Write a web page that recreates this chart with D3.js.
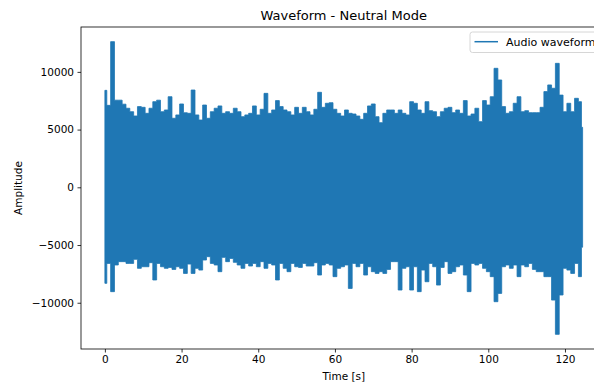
<!DOCTYPE html>
<html>
<head>
<meta charset="utf-8">
<script src="https://cdn.jsdelivr.net/npm/d3@7"></script>
<style>
  html, body { margin: 0; padding: 0; background: #fff; }
  svg { display: block; font-family: "DejaVu Sans", sans-serif; }
</style>
</head>
<body>
<div id="chart"></div>
<script>
// envelope of the waveform, one value per second (t = 0..124)
var upper = [
  8400, 7100, 12620, 7550, 7550, 7200, 6850, 6550, 6180, 6990,
  6930, 6410, 6850, 7420, 7550, 6550, 6700, 7850, 5980, 6270,
  7220, 6460, 6410, 8430, 6270, 5830, 7130, 5980, 6550, 6850,
  7050, 6410, 6550, 6410, 6850, 6550, 6120, 6270, 6410, 7050,
  6270, 6760, 8140, 6410, 6700, 7510, 6990, 6700, 6550, 6270,
  6930, 6410, 6930, 6550, 6270, 6760, 8230, 6930, 7280, 7330,
  6760, 6410, 6180, 6700, 6410, 6350, 6180, 5890, 6410, 7050,
  7220, 6120, 5600, 6410, 6700, 6700, 6410, 6700, 6410, 6270,
  7420, 7280, 6700, 6410, 7420, 6640, 6550, 6120, 6550, 6850,
  6930, 6470, 6700, 6410, 7510, 6180, 6350, 6850, 5690, 7510,
  7130, 7850, 10310, 9300, 6990, 6410, 6550, 7280, 7850, 6550,
  6640, 6470, 6470, 6470, 6930, 8290, 8870, 8580, 10740, 7990,
  6550, 7280, 6550, 7710, 7420
];
var lower = [
  -8320, -6590, -9040, -6730, -6440, -6440, -6590, -6590, -6240, -7020,
  -6880, -6880, -6530, -8030, -6590, -6880, -7020, -6940, -7110, -6880,
  -7020, -7460, -6650, -7460, -7020, -7170, -6300, -6010, -6590, -6730,
  -7310, -6070, -6440, -6160, -6500, -6730, -7020, -6590, -6820, -6590,
  -6880, -6440, -7020, -6590, -6730, -8030, -6590, -7020, -7310, -6590,
  -6880, -6940, -6590, -6820, -6820, -6530, -7600, -6730, -6590, -6730,
  -7740, -7020, -6880, -6730, -8760, -6590, -6880, -6590, -7600, -6880,
  -7310, -7460, -7310, -7460, -7110, -6440, -6440, -8900, -7020, -6880,
  -8900, -6880, -9040, -7170, -8180, -6590, -6880, -8470, -6940, -6440,
  -7460, -7310, -6880, -6730, -7600, -9040, -6590, -6730, -6590, -7020,
  -7310, -7740, -9910, -9190, -6880, -6730, -7020, -6730, -7740, -6730,
  -6880, -6590, -7110, -7310, -7310, -7740, -7740, -9770, -12740, -9330,
  -7020, -7170, -7460, -6590, -7740
];
// the last sample, at the very end of the clip
var endTime = 124.6;
var endUpper = 5200;
var endLower = -5190;

var xTicks = [0, 20, 40, 60, 80, 100, 120];
var yTicks = [-10000, -5000, 0, 5000, 10000];

var title = "Waveform - Neutral Mode";
var xLabel = "Time [s]";
var yLabel = "Amplitude";
var legendLabel = "Audio waveform";

var width = 594, height = 383;
var margin = {top: 27, left: 81, right: 606.5, bottom: 349};
var blue = "#1f77b4";

var data = upper.map(function(u, i) { return {t: i, hi: u, lo: lower[i]}; });
data.push({t: endTime, hi: endUpper, lo: endLower});

// matplotlib style 5% padding round the data
var tMax = d3.max(data, function(d) { return d.t; });
var vMax = d3.max(data, function(d) { return d.hi; });
var vMin = d3.min(data, function(d) { return d.lo; });
var padX = tMax * 0.05, padY = (vMax - vMin) * 0.05;

var x = d3.scaleLinear().domain([-padX, tMax + padX]).range([margin.left, margin.right]);
var y = d3.scaleLinear().domain([vMin - padY, vMax + padY]).range([margin.bottom, margin.top]);

var svg = d3.select("#chart").append("svg")
    .attr("width", width)
    .attr("height", height);

var area = d3.area()
    .curve(d3.curveStep)
    .x(function(d) { return x(d.t); })
    .y0(function(d) { return y(d.lo); })
    .y1(function(d) { return y(d.hi); });

svg.append("path")
    .datum(data)
    .attr("d", area)
    .attr("fill", blue)
    .attr("stroke", blue)
    .attr("stroke-width", 0.8)
    .attr("stroke-linejoin", "miter");

// axes
var xAxis = svg.append("g")
    .attr("transform", "translate(0," + margin.bottom + ")")
    .call(d3.axisBottom(x).tickValues(xTicks).tickSizeOuter(0).tickSize(3.5).tickPadding(3.5));
var yAxis = svg.append("g")
    .attr("transform", "translate(" + margin.left + ",0)")
    .call(d3.axisLeft(y).tickValues(yTicks).tickSizeOuter(0).tickSize(3.5).tickPadding(3.5)
        .tickFormat(function(d) { return d < 0 ? "\u2212" + Math.abs(d) : d; }));

[xAxis, yAxis].forEach(function(a) {
    a.select(".domain").remove();
    a.selectAll(".tick line").attr("stroke", "#000").attr("stroke-width", 0.8);
    a.selectAll(".tick text")
        .attr("fill", "#000")
        .style("font-size", "10.5px")
        .style("font-family", "DejaVu Sans, sans-serif");
});

// frame
svg.append("rect")
    .attr("x", margin.left)
    .attr("y", margin.top)
    .attr("width", margin.right - margin.left)
    .attr("height", margin.bottom - margin.top)
    .attr("fill", "none")
    .attr("stroke", "#000")
    .attr("stroke-width", 0.8);

// texts
svg.append("text")
    .attr("x", (margin.left + margin.right) / 2)
    .attr("y", 20)
    .attr("text-anchor", "middle")
    .style("font-size", "13px")
    .text(title);

svg.append("text")
    .attr("x", (margin.left + margin.right) / 2)
    .attr("y", 380)
    .attr("text-anchor", "middle")
    .style("font-size", "10.5px")
    .text(xLabel);

svg.append("text")
    .attr("transform", "translate(22," + ((margin.top + margin.bottom) / 2) + ") rotate(-90)")
    .attr("text-anchor", "middle")
    .style("font-size", "10.5px")
    .text(yLabel);

// legend
var legend = svg.append("g").attr("transform", "translate(470,32)");
legend.append("rect")
    .attr("width", 140)
    .attr("height", 20.5)
    .attr("rx", 2.5)
    .attr("fill", "#fff")
    .attr("fill-opacity", 0.8)
    .attr("stroke", "#cccccc")
    .attr("stroke-width", 0.8);
legend.append("line")
    .attr("x1", 4.5).attr("x2", 28)
    .attr("y1", 9.7).attr("y2", 9.7)
    .attr("stroke", blue)
    .attr("stroke-width", 1.5);
legend.append("text")
    .attr("x", 36)
    .attr("y", 13.5)
    .style("font-size", "11px")
    .text(legendLabel);
</script>
</body>
</html>
